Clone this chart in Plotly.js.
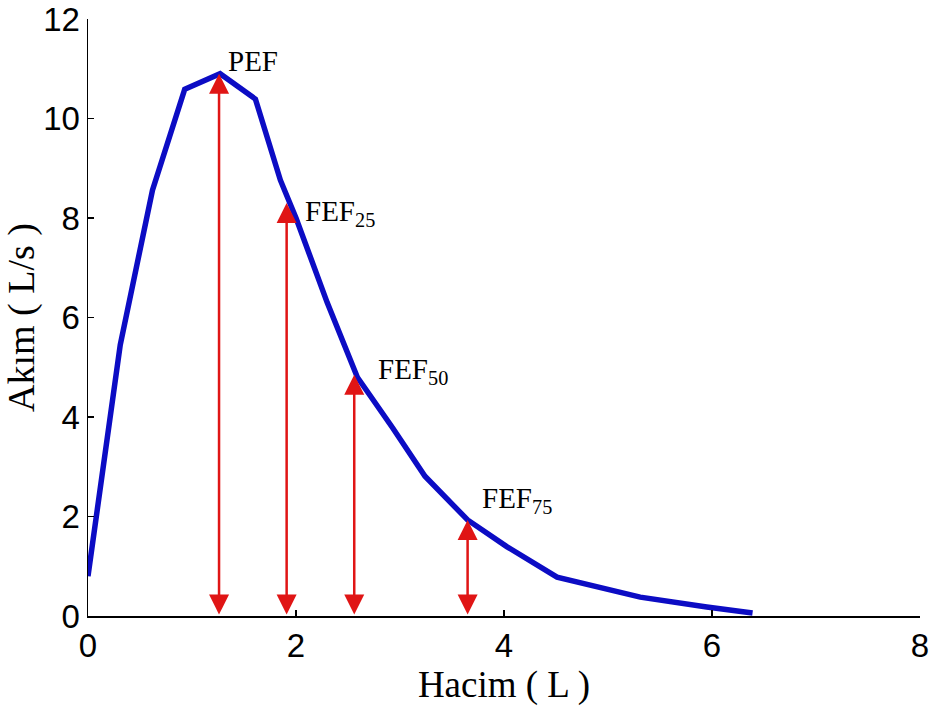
<!DOCTYPE html>
<html><head><meta charset="utf-8">
<script src="https://cdn.plot.ly/plotly-3.0.1.min.js"></script>
<style>html,body{margin:0;padding:0;background:#fff}</style>
</head><body>
<div id="chart" style="width:935px;height:711px"></div>
<script>
const volume = [0, 0.31, 0.62, 0.93, 1.27, 1.61, 1.85, 2.0, 2.3, 2.59, 2.93, 3.24, 3.65, 4.03, 4.51, 5.31, 5.95, 6.39];
const flow   = [0.8, 5.45, 8.56, 10.59, 10.9, 10.39, 8.76, 8.0, 6.3, 4.8, 3.78, 2.81, 1.93, 1.39, 0.78, 0.38, 0.18, 0.06];

const markerNames = ['PEF', 'FEF<sub>25</sub>', 'FEF<sub>50</sub>', 'FEF<sub>75</sub>'];
const markerX = [1.26, 1.91, 2.56, 3.65];
const markerY = [10.9, 8.3, 4.85, 1.93];
const labelX = [1.33, 2.07, 2.77, 3.77];
const labelY = [11.52, 8.50, 5.33, 2.73];

const xTicks = [0, 2, 4, 6, 8];
const yTicks = [0, 2, 4, 6, 8, 10, 12];

const annotations = [];
for (let i = 0; i < markerX.length; i++) {
  annotations.push({
    x: markerX[i], y: markerY[i], ax: markerX[i], ay: 0,
    xref: 'x', yref: 'y', axref: 'x', ayref: 'y',
    text: '', showarrow: true, arrowhead: 2, startarrowhead: 2,
    arrowside: 'end+start', arrowsize: 1.6, startarrowsize: 1.6,
    arrowwidth: 2.5, arrowcolor: '#e01515'
  });
  annotations.push({
    x: labelX[i], y: labelY[i], xref: 'x', yref: 'y',
    text: markerNames[i], showarrow: false, xanchor: 'left', yanchor: 'top',
    font: {family: 'Liberation Serif, Times New Roman, serif', size: 29, color: '#000'}
  });
}

const data = [{
  x: volume, y: flow, type: 'scatter', mode: 'lines',
  line: {color: '#0c0cc4', width: 5.5}, hoverinfo: 'skip'
}];

const layout = {
  width: 935, height: 711,
  margin: {l: 88, r: 15, t: 19, b: 95},
  paper_bgcolor: '#fff', plot_bgcolor: '#fff',
  showlegend: false,
  xaxis: {
    range: [0, 8], tickvals: xTicks, ticktext: xTicks.map(String),
    ticks: 'inside', ticklen: 6, tickcolor: '#000', tickwidth: 1.5,
    showline: true, linecolor: '#000', linewidth: 1.5, showgrid: false, zeroline: false,
    tickfont: {family: 'Liberation Sans, Arial, sans-serif', size: 33, color: '#000'},
    title: {text: 'Hacim ( L )', standoff: 2,
      font: {family: 'Liberation Serif, Times New Roman, serif', size: 37, color: '#000'}}
  },
  yaxis: {
    range: [0, 12], tickvals: yTicks, ticktext: yTicks.map(String),
    ticks: 'inside', ticklen: 6, tickcolor: '#000', tickwidth: 1.5,
    showline: true, linecolor: '#000', linewidth: 1.5, showgrid: false, zeroline: false,
    tickfont: {family: 'Liberation Sans, Arial, sans-serif', size: 33, color: '#000'},
    title: {text: 'Akım ( L/s )', standoff: 0,
      font: {family: 'Liberation Serif, Times New Roman, serif', size: 38, color: '#000'}}
  },
  annotations: annotations
};

Plotly.newPlot('chart', data, layout, {displayModeBar: false, staticPlot: true});
</script>
</body></html>
